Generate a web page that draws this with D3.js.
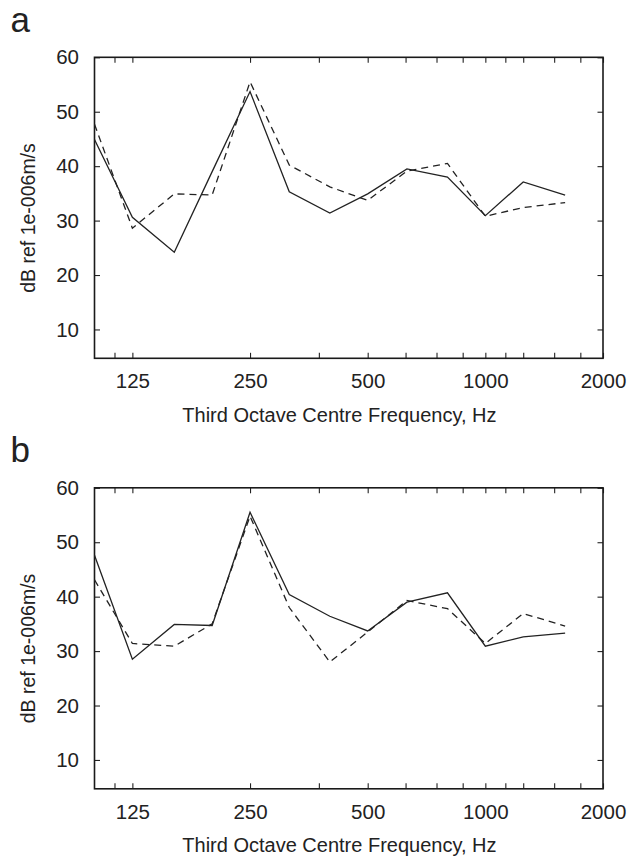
<!DOCTYPE html>
<html>
<head>
<meta charset="utf-8">
<script src="https://cdn.jsdelivr.net/npm/d3@7"></script>
<style>
  html, body { margin: 0; padding: 0; background: #fff; }
  svg { display: block; }
  text { font-family: "Liberation Sans", Arial, sans-serif; fill: #222; }
</style>
</head>
<body>
<svg id="chart" width="629" height="859"></svg>
<script>
// Third-octave centre frequencies (Hz)
const freqs = [100, 125, 160, 200, 250, 315, 400, 500, 630, 800, 1000, 1250, 1600];

// Panel a
const aSolid  = [44.9, 30.6, 24.2, 39.0, 53.7, 35.3, 31.4, 34.9, 39.5, 38.0, 30.9, 37.1, 34.7];
const aDashed = [47.7, 28.6, 34.9, 34.7, 55.5, 40.2, 36.2, 33.7, 39.1, 40.5, 30.8, 32.4, 33.3];

// Panel b
const bSolid  = [47.6, 28.5, 34.9, 34.7, 55.5, 40.4, 36.4, 33.7, 39.0, 40.7, 30.9, 32.6, 33.3];
const bDashed = [43.1, 31.4, 30.9, 35.0, 54.8, 38.0, 28.0, 33.5, 39.3, 37.8, 31.4, 36.9, 34.6];

// Tick labels
const xMajorTicks = [125, 250, 500, 1000, 2000];
const xMinorTicks = [112.5, 375, 625, 750, 875, 1125, 1250, 1500, 1750];
const yTicks = [10, 20, 30, 40, 50, 60];

const panelLabels = ["a", "b"];
const xTitle = "Third Octave Centre Frequency, Hz";
const yTitle = "dB ref 1e-006m/s";

const svg = d3.select("#chart");
const ink = "#222";

const panels = [
  { label: panelLabels[0], solid: aSolid, dashed: aDashed, off: 0 },
  { label: panelLabels[1], solid: bSolid, dashed: bDashed, off: 430.5 }
];

const left = 94.5, right = 603, top0 = 57.3, bottom0 = 358.3;
const tick = 5.5;

panels.forEach(p => {
  const top = top0 + p.off, bottom = bottom0 + p.off;
  const x = d3.scaleLog().domain([100, 2000]).range([left, right]);
  const y = d3.scaleLinear().domain([4.7, 60]).range([bottom, top]);
  const g = svg.append("g");

  // panel letter
  g.append("text").attr("x", 10.5).attr("y", 31.7 + p.off)
    .attr("font-size", 35).text(p.label);

  // bottom major axis with labels
  const axB = g.append("g").attr("transform", `translate(0,${bottom})`)
    .call(d3.axisBottom(x).tickValues(xMajorTicks).tickSize(-tick).tickPadding(15.2)
      .tickFormat(d3.format("d")));
  // bottom minor
  const axBm = g.append("g").attr("transform", `translate(0,${bottom})`)
    .call(d3.axisBottom(x).tickValues(xMinorTicks).tickSize(-tick).tickFormat(""));
  // top major + minor
  const axT = g.append("g").attr("transform", `translate(0,${top})`)
    .call(d3.axisTop(x).tickValues(xMajorTicks.concat(xMinorTicks)).tickSize(-tick).tickFormat(""));
  // left
  const axL = g.append("g").attr("transform", `translate(${left},0)`)
    .call(d3.axisLeft(y).tickValues(yTicks).tickSize(-tick).tickPadding(15.5)
      .tickFormat(d3.format("d")));
  // right
  const axR = g.append("g").attr("transform", `translate(${right},0)`)
    .call(d3.axisRight(y).tickValues(yTicks).tickSize(-tick).tickFormat(""));

  [axB, axBm, axT, axL, axR].forEach(a => {
    a.select(".domain").remove();
    a.selectAll(".tick line").attr("stroke", ink).attr("stroke-width", 1.1);
    a.selectAll(".tick text").attr("fill", ink).attr("font-size", 20.5)
      .attr("font-family", "Liberation Sans, Arial, sans-serif");
  });

  // frame
  g.append("rect").attr("x", left).attr("y", top)
    .attr("width", right - left).attr("height", bottom - top)
    .attr("fill", "none").attr("stroke", "#1a1a1a").attr("stroke-width", 1.6);

  const line = d3.line().x(d => x(d.f)).y(d => y(d.v));
  const mk = arr => freqs.map((f, i) => ({ f, v: arr[i] }));

  g.append("path").datum(mk(p.dashed)).attr("d", line)
    .attr("fill", "none").attr("stroke", ink).attr("stroke-width", 1.3)
    .attr("stroke-dasharray", "7,5");
  g.append("path").datum(mk(p.solid)).attr("d", line)
    .attr("fill", "none").attr("stroke", ink).attr("stroke-width", 1.3);

  // axis titles
  g.append("text").attr("x", 339.4).attr("y", 421.5 + p.off)
    .attr("text-anchor", "middle").attr("font-size", 20).text(xTitle);
  g.append("text")
    .attr("transform", `translate(35,${218 + p.off}) rotate(-90)`)
    .attr("text-anchor", "middle").attr("font-size", 19.5).text(yTitle);
});
</script>
</body>
</html>
